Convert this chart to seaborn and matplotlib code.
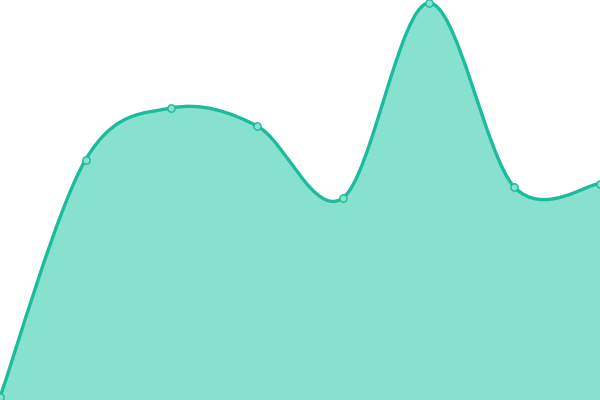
import numpy as np
import pandas as pd
import matplotlib
matplotlib.use("Agg")
import matplotlib.pyplot as plt
from matplotlib.path import Path
from matplotlib.patches import PathPatch
import seaborn as sns

# Data
categories = [0, 1, 2, 3, 4, 5, 6, 7]
values = [3, 240.5, 292, 274, 202, 397, 213, 216.5]

LINE = "#1abc9c"
FILL = "#88e0cf"

sns.set_theme(style="white")
fig = plt.figure(figsize=(6, 4), dpi=100)
ax = fig.add_axes([0, 0, 1, 1])
ax.set_xlim(0, 7)
ax.set_ylim(0, 400)
ax.axis("off")

# Catmull-Rom as cubic Bezier path (rendered by matplotlib)
pts = np.column_stack([categories, values]).astype(float)
ext = np.vstack([pts[0], pts, pts[-1]])
verts = [tuple(pts[0])]
codes = [Path.MOVETO]
for i in range(len(pts) - 1):
    p0, p1, p2, p3 = ext[i], ext[i + 1], ext[i + 2], ext[i + 3]
    c1 = p1 + (p2 - p0) / 6.0
    c2 = p2 - (p3 - p1) / 6.0
    verts += [tuple(c1), tuple(c2), tuple(p2)]
    codes += [Path.CURVE4] * 3

line_path = Path(verts, codes)
fill_verts = verts + [(categories[-1], 0), (categories[0], 0), verts[0]]
fill_codes = codes + [Path.LINETO, Path.LINETO, Path.CLOSEPOLY]
fill_path = Path(fill_verts, fill_codes)

ax.add_patch(PathPatch(fill_path, facecolor=FILL, edgecolor="none", zorder=1))
ax.add_patch(PathPatch(line_path, facecolor="none", edgecolor=LINE, lw=2.4,
                       capstyle="round", joinstyle="round", zorder=2))

df = pd.DataFrame({"x": categories, "y": values})
sns.scatterplot(data=df, x="x", y="y", ax=ax, s=28, color=FILL,
                edgecolor=LINE, linewidth=1.0, zorder=3, clip_on=False)
ax.set_xlim(0, 7)
ax.set_ylim(0, 400)
ax.axis("off")

fig.savefig("out.png", dpi=100)
